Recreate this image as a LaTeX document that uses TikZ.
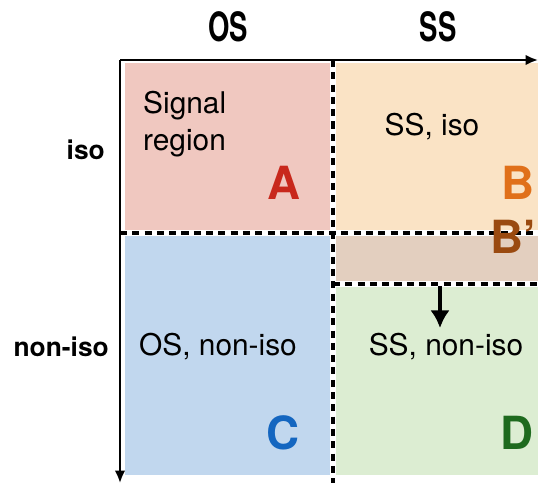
\documentclass[tikz,border=0pt]{standalone}
\usepackage{fontspec}
\setmainfont{TeX Gyre Heros}
\newfontfamily\headfont[FakeStretch=0.68]{TeX Gyre Heros}
\usetikzlibrary{arrows.meta,positioning}
\definecolor{fillA}{RGB}{240,200,192}
\definecolor{fillB}{RGB}{250,227,197}
\definecolor{fillBp}{RGB}{227,207,191}
\definecolor{fillC}{RGB}{193,215,238}
\definecolor{fillD}{RGB}{220,237,210}
\definecolor{letA}{RGB}{200,40,28}
\definecolor{letB}{RGB}{224,112,26}
\definecolor{letBp}{RGB}{154,74,16}
\definecolor{letC}{RGB}{20,102,192}
\definecolor{letD}{RGB}{30,106,30}
\tikzset{
  axis/.style={-{Latex[length=7pt,width=6pt]},line width=1.2pt,black},
  sepline/.style={line width=2pt,black,dash pattern=on 4pt off 3pt},
  sepback/.style={line width=3.2pt,white},
  head/.style={font=\headfont\bfseries\fontsize{23}{25}\selectfont},
  side/.style={font=\bfseries\fontsize{15}{17}\selectfont,anchor=east},
  txt/.style={font=\fontsize{17}{21.5}\selectfont},
  letter/.style={font=\bfseries\fontsize{26}{28}\selectfont},
}
\begin{document}
\begin{tikzpicture}[x=0.02cm,y=-0.02cm]
    \useasboundingbox (0,0) rectangle (538,483);

    % regions
    \fill[fillA]  (125,63)  rectangle (331,233);
    \fill[fillB]  (335,63)  rectangle (538,232);
    \fill[fillBp] (335,234) rectangle (538,283);
    \fill[fillC]  (125,235) rectangle (331,475);
    \fill[fillD]  (335,286) rectangle (538,475);

    % separators
    \draw[sepback] (333,60) -- (333,483);
    \draw[sepback] (120,233) -- (538,233);
    \draw[sepback] (333,284) -- (538,284);
    \draw[sepline] (333,60) -- (333,483);
    \draw[sepline] (120,233) -- (538,233);
    \draw[sepline] (333,284) -- (538,284);

    % axes
    \coordinate (orig) at (120,60);
    \coordinate (xend) at (538,60);
    \coordinate (yend) at (120,483);
    \draw[axis] (orig) -- (xend);
    \draw[axis] (orig) -- (yend);

    \node[head] (os) at (228,27) {OS};
    \node[head] (ss) at (438,27) {SS};
    \node[side] (iso)    at (111,150) {iso};
    \node[side] (noniso) at (115,347) {non-iso};

    \node[txt,align=left,anchor=west] (sig) at (137,124) {Signal\\region};
    \node[txt] (ssiso)    at (432,127) {SS, iso};
    \node[txt] (osnoniso) at (218,347) {OS, non-iso};
    \node[txt] (ssnoniso) at (446,347) {SS, non-iso};

    \node[letter,letA]  (la)  at (284,183) {A};
    \node[letter,letB]  (lb)  at (518,183) {B};
    \node[letter,letBp,anchor=east,inner xsep=1pt] (lbp) at (538,237) {B’};
    \node[letter,letC]  (lc)  at (283,433) {C};
    \node[letter,letD]  (ld)  at (517,433) {D};

    % shift of B' into D
    \coordinate (sfrom) at (440,286);
    \coordinate (sto)   at (440,328);
    \draw[-{Latex[length=10pt,width=11pt]},line width=2pt] (sfrom) -- (sto);

  \end{tikzpicture}
\end{document}
